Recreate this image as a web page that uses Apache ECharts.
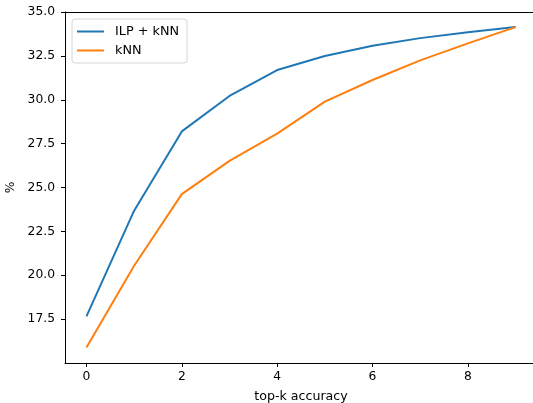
<!DOCTYPE html>
<html>
<head>
<meta charset="utf-8">
<script src="https://cdn.jsdelivr.net/npm/echarts@6/dist/echarts.min.js"></script>
<style>
html,body{margin:0;padding:0;background:#fff;}
#chart{width:533px;height:403px;}
</style>
</head>
<body>
<div id="chart"></div>
<script>
const kValues = [0, 1, 2, 3, 4, 5, 6, 7, 8, 9];
const ilpKnn = [17.65, 23.68, 28.2, 30.22, 31.7, 32.5, 33.08, 33.52, 33.86, 34.15];
const knn = [15.88, 20.54, 24.62, 26.52, 28.07, 29.9, 31.13, 32.25, 33.22, 34.15];
const xTicks = [0, 2, 4, 6, 8];
const yTicks = [17.5, 20.0, 22.5, 25.0, 27.5, 30.0, 32.5, 35.0];
const seriesNames = ['ILP + kNN', 'kNN'];

const font = 'DejaVu Sans';
const fs = 12.3;
const chart = echarts.init(document.getElementById('chart'), null, {renderer: 'canvas'});
chart.setOption({
  animation: false,
  backgroundColor: '#fff',
  color: ['#1f77b4', '#ff7f0e'],
  grid: {
    left: 65, top: 12, bottom: 40, right: -4,
    containLabel: false, outerBoundsMode: 'none', show: false
  },
  legend: {
    left: 72, top: 19, orient: 'vertical',
    icon: 'rect', itemWidth: 27, itemHeight: 2, itemGap: 6,
    padding: [6, 8, 6, 5],
    backgroundColor: '#fff', borderColor: '#d6d6d6', borderWidth: 1, borderRadius: 3,
    textStyle: {fontFamily: font, fontSize: 12.8, color: '#000', padding: [0, 0, 0, 6]},
    data: seriesNames
  },
  xAxis: [{
    type: 'value', min: -0.45, max: 9.45, position: 'bottom',
    name: 'top-k accuracy', nameLocation: 'middle', nameGap: 27,
    nameTextStyle: {fontFamily: font, fontSize: 12.6, color: '#000'},
    axisLine: {show: true, onZero: false, lineStyle: {color: '#000', width: 1}},
    axisTick: {show: true, length: 4, lineStyle: {color: '#000'}, customValues: xTicks},
    axisLabel: {fontFamily: font, fontSize: fs, color: '#000', margin: 8, customValues: xTicks,
      formatter: v => String(v)},
    splitLine: {show: false}
  }, {
    type: 'value', min: -0.45, max: 9.45, position: 'top',
    axisLine: {show: true, onZero: false, lineStyle: {color: '#000', width: 1}},
    axisTick: {show: false}, axisLabel: {show: false}, splitLine: {show: false}
  }],
  yAxis: {
    type: 'value', min: 14.99, max: 35.01,
    name: '%', nameLocation: 'middle', nameGap: 41, nameRotate: 90,
    nameTextStyle: {fontFamily: font, fontSize: fs, color: '#000'},
    axisLine: {show: true, onZero: false, lineStyle: {color: '#000', width: 1}},
    axisTick: {show: true, length: 4, lineStyle: {color: '#000'}, customValues: yTicks},
    axisLabel: {fontFamily: font, fontSize: fs, color: '#000', margin: 10, customValues: yTicks,
      formatter: v => v.toFixed(1)},
    splitLine: {show: false}
  },
  series: [
    {name: seriesNames[0], type: 'line', symbol: 'none', lineStyle: {width: 2},
      data: kValues.map((k, i) => [k, ilpKnn[i]])},
    {name: seriesNames[1], type: 'line', symbol: 'none', lineStyle: {width: 2},
      data: kValues.map((k, i) => [k, knn[i]])}
  ]
});
</script>
</body>
</html>
